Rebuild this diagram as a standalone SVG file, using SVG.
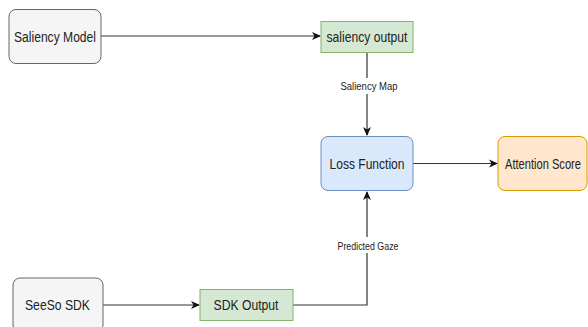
<svg xmlns="http://www.w3.org/2000/svg" width="588" height="327" viewBox="0 0 588 327">
<defs>
<marker id="arr" markerWidth="10" markerHeight="10" refX="8" refY="5" orient="auto" markerUnits="userSpaceOnUse">
<path d="M0,1 L9,5 L0,9 L2.5,5 Z" fill="#111"/>
</marker>
<style>
.t{font-family:"Liberation Sans",Arial,sans-serif;font-size:14px;fill:#222;text-anchor:middle}
.l{font-family:"Liberation Sans",Arial,sans-serif;font-size:10px;fill:#222;text-anchor:middle}
.c{fill:none;stroke:#333;stroke-width:1.2}
.gray{fill:#f5f5f5;stroke:#666}
.green{fill:#d5e8d4;stroke:#82b366}
.blue{fill:#dae8fc;stroke:#6c8ebf}
.orange{fill:#ffe6cc;stroke:#d79b00}
</style>
</defs>
<rect width="588" height="327" fill="#fff"/>
<g id="connectors">
<path class="c" d="M101,36 H320" marker-end="url(#arr)"/>
<path class="c" d="M367,52 V135" marker-end="url(#arr)"/>
<path class="c" d="M413,163.5 H497" marker-end="url(#arr)"/>
<path class="c" d="M103,305 H199" marker-end="url(#arr)"/>
<path class="c" d="M293,305 H367 V192" marker-end="url(#arr)"/>
<rect x="338" y="78" width="62" height="16" fill="#fff"/>
<text class="l" x="369" y="89.5" textLength="57" lengthAdjust="spacingAndGlyphs">Saliency Map</text>
<rect x="335" y="237" width="66" height="16" fill="#fff"/>
<text class="l" x="368" y="249.5" textLength="61" lengthAdjust="spacingAndGlyphs">Predicted Gaze</text>
</g>
<g id="saliency-model">
<rect class="gray" x="9" y="9.5" width="92" height="54" rx="7"/>
<text class="t" x="55" y="41.5" textLength="82" lengthAdjust="spacingAndGlyphs">Saliency Model</text>
</g>
<g id="saliency-output">
<rect class="green" x="321" y="21.5" width="92" height="31"/>
<text class="t" x="367" y="41.5" textLength="81" lengthAdjust="spacingAndGlyphs">saliency output</text>
</g>
<g id="loss-function">
<rect class="blue" x="321" y="136.5" width="92" height="54" rx="7"/>
<text class="t" x="367" y="168.5" textLength="75" lengthAdjust="spacingAndGlyphs">Loss Function</text>
</g>
<g id="attention-score">
<rect class="orange" x="498" y="136.5" width="89" height="54" rx="7"/>
<text class="t" transform="translate(543,168.5) scale(0.795,1)" x="0" y="0">Attention Score</text>
</g>
<g id="seeso-sdk">
<rect class="gray" x="13" y="278" width="90" height="54" rx="7"/>
<text class="t" x="57.5" y="310" textLength="65" lengthAdjust="spacingAndGlyphs">SeeSo SDK</text>
</g>
<g id="sdk-output">
<rect class="green" x="200" y="289.5" width="93" height="31"/>
<text class="t" x="246" y="309.5" textLength="65" lengthAdjust="spacingAndGlyphs">SDK Output</text>
</g>
</svg>
